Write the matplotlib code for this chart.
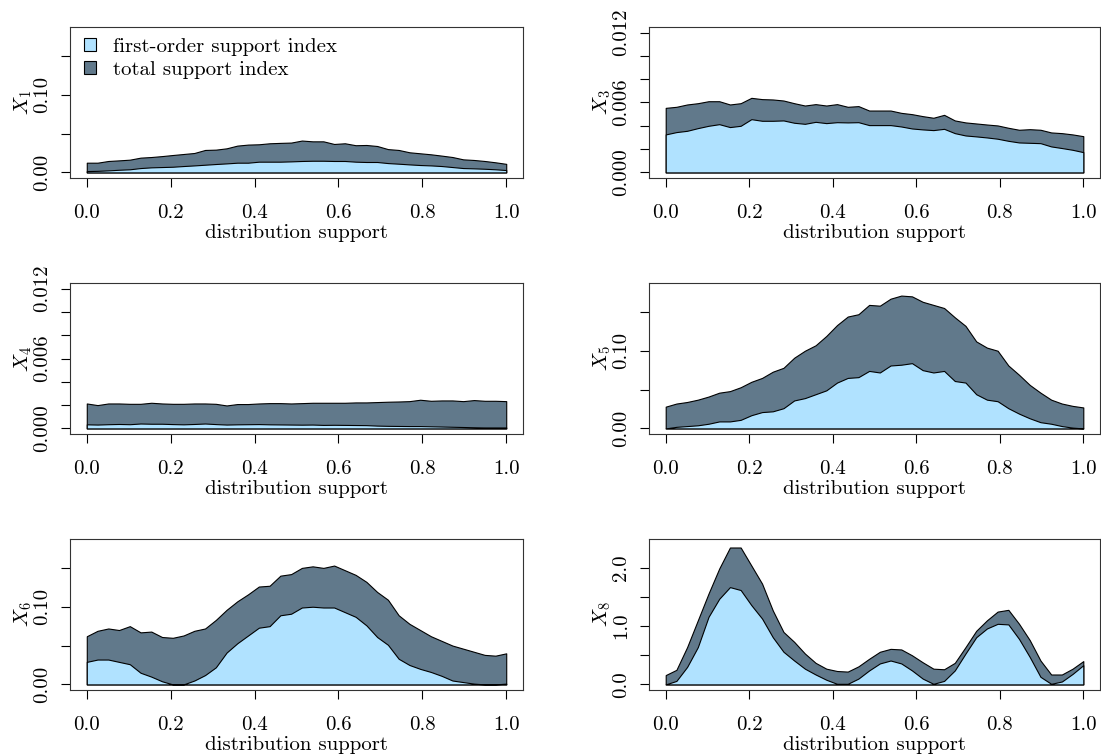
import numpy as np
import matplotlib
matplotlib.use("Agg")
import matplotlib.pyplot as plt
from matplotlib.patches import Patch

plt.rcParams['font.family'] = 'serif'
plt.rcParams['font.serif'] = ['cmr10']
plt.rcParams['mathtext.fontset'] = 'cm'
plt.rcParams['axes.unicode_minus'] = False

# 40 support points on [0, 1]
support = np.linspace(0, 1, 40)

x1_first = [0.0017, 0.0020, 0.0026, 0.0034, 0.0040, 0.0056, 0.0065, 0.0069, 0.0073, 0.0082,
            0.0090, 0.0099, 0.0108, 0.0116, 0.0125, 0.0125, 0.0138, 0.0138, 0.0138, 0.0142,
            0.0147, 0.0150, 0.0150, 0.0147, 0.0147, 0.0138, 0.0134, 0.0134, 0.0120, 0.0112,
            0.0103, 0.0095, 0.0090, 0.0082, 0.0069, 0.0056, 0.0052, 0.0047, 0.0040, 0.0030]
x1_total = [0.0125, 0.0125, 0.0147, 0.0155, 0.0164, 0.0190, 0.0198, 0.0210, 0.0224, 0.0237,
            0.0250, 0.0289, 0.0293, 0.0310, 0.0345, 0.0358, 0.0362, 0.0375, 0.0380, 0.0384,
            0.0410, 0.0400, 0.0400, 0.0366, 0.0375, 0.0350, 0.0353, 0.0340, 0.0300, 0.0289,
            0.0259, 0.0246, 0.0233, 0.0216, 0.0198, 0.0168, 0.0160, 0.0147, 0.0130, 0.0110]

x3_first = [0.00326, 0.00346, 0.00357, 0.00380, 0.00400, 0.00414, 0.00389, 0.00400, 0.00457, 0.00443,
            0.00443, 0.00446, 0.00426, 0.00417, 0.00434, 0.00423, 0.00431, 0.00429, 0.00431, 0.00406,
            0.00406, 0.00406, 0.00394, 0.00377, 0.00369, 0.00363, 0.00374, 0.00337, 0.00317, 0.00309,
            0.00300, 0.00289, 0.00271, 0.00257, 0.00254, 0.00251, 0.00223, 0.00209, 0.00194, 0.00174]
x3_total = [0.00554, 0.00563, 0.00583, 0.00594, 0.00611, 0.00611, 0.00583, 0.00594, 0.00640, 0.00629,
            0.00626, 0.00617, 0.00594, 0.00574, 0.00586, 0.00574, 0.00586, 0.00563, 0.00569, 0.00531,
            0.00531, 0.00531, 0.00511, 0.00500, 0.00483, 0.00469, 0.00494, 0.00446, 0.00429, 0.00420,
            0.00411, 0.00403, 0.00383, 0.00366, 0.00371, 0.00366, 0.00343, 0.00337, 0.00326, 0.00311]

x4_first = [0.00035, 0.00033, 0.00036, 0.00038, 0.00036, 0.00042, 0.00040, 0.00040, 0.00037, 0.00035,
            0.00038, 0.00042, 0.00037, 0.00033, 0.00035, 0.00036, 0.00037, 0.00035, 0.00034, 0.00033,
            0.00032, 0.00033, 0.00030, 0.00031, 0.00030, 0.00029, 0.00028, 0.00024, 0.00022, 0.00021,
            0.00020, 0.00020, 0.00018, 0.00016, 0.00014, 0.00012, 0.00010, 0.00008, 0.00008, 0.00008]
x4_total = [0.00214, 0.00200, 0.00214, 0.00214, 0.00211, 0.00211, 0.00220, 0.00214, 0.00211, 0.00211,
            0.00214, 0.00214, 0.00211, 0.00197, 0.00209, 0.00209, 0.00214, 0.00217, 0.00217, 0.00214,
            0.00217, 0.00220, 0.00220, 0.00220, 0.00220, 0.00223, 0.00223, 0.00226, 0.00229, 0.00231,
            0.00234, 0.00246, 0.00237, 0.00240, 0.00240, 0.00234, 0.00243, 0.00237, 0.00237, 0.00234]

x5_first = [0.000, 0.002, 0.003, 0.004, 0.006, 0.009, 0.009, 0.011, 0.017, 0.021,
            0.022, 0.026, 0.036, 0.039, 0.044, 0.049, 0.059, 0.065, 0.066, 0.074,
            0.072, 0.081, 0.082, 0.084, 0.075, 0.072, 0.074, 0.061, 0.059, 0.044,
            0.037, 0.035, 0.026, 0.019, 0.013, 0.008, 0.006, 0.003, 0.001, 0.000]
x5_total = [0.028, 0.032, 0.034, 0.037, 0.041, 0.046, 0.048, 0.053, 0.060, 0.065,
            0.073, 0.078, 0.091, 0.100, 0.107, 0.119, 0.133, 0.144, 0.147, 0.159,
            0.158, 0.167, 0.171, 0.170, 0.163, 0.159, 0.155, 0.143, 0.132, 0.112,
            0.104, 0.100, 0.081, 0.069, 0.056, 0.046, 0.037, 0.032, 0.029, 0.027]

x6_first = [0.029, 0.032, 0.032, 0.029, 0.026, 0.015, 0.010, 0.004, 0.000, 0.000,
            0.005, 0.012, 0.022, 0.041, 0.053, 0.063, 0.073, 0.075, 0.089, 0.091,
            0.099, 0.100, 0.099, 0.099, 0.093, 0.087, 0.076, 0.061, 0.051, 0.033,
            0.025, 0.020, 0.016, 0.011, 0.005, 0.003, 0.001, 0.000, 0.000, 0.001]
x6_total = [0.062, 0.069, 0.072, 0.070, 0.075, 0.067, 0.068, 0.061, 0.060, 0.063,
            0.069, 0.072, 0.083, 0.096, 0.107, 0.116, 0.126, 0.127, 0.140, 0.142,
            0.150, 0.152, 0.150, 0.153, 0.147, 0.141, 0.132, 0.119, 0.109, 0.089,
            0.078, 0.070, 0.062, 0.056, 0.050, 0.046, 0.042, 0.038, 0.037, 0.040]

x8_first = [0.00, 0.06, 0.30, 0.64, 1.16, 1.47, 1.67, 1.62, 1.36, 1.13,
            0.81, 0.56, 0.41, 0.27, 0.17, 0.08, 0.01, 0.01, 0.10, 0.24,
            0.36, 0.41, 0.36, 0.24, 0.10, 0.01, 0.06, 0.24, 0.53, 0.81,
            0.96, 1.04, 1.03, 0.78, 0.47, 0.13, 0.01, 0.05, 0.18, 0.33]
x8_total = [0.16, 0.25, 0.64, 1.10, 1.56, 1.99, 2.35, 2.35, 2.04, 1.73,
            1.27, 0.90, 0.73, 0.53, 0.37, 0.27, 0.23, 0.22, 0.31, 0.44,
            0.56, 0.61, 0.60, 0.50, 0.38, 0.27, 0.26, 0.37, 0.64, 0.92,
            1.10, 1.25, 1.28, 1.04, 0.76, 0.41, 0.17, 0.17, 0.27, 0.40]

panel_names = ['$X_1$', '$X_3$', '$X_4$', '$X_5$', '$X_6$', '$X_8$']
first_order = [x1_first, x3_first, x4_first, x5_first, x6_first, x8_first]
total_order = [x1_total, x3_total, x4_total, x5_total, x6_total, x8_total]
y_maxes = [0.18, 0.012, 0.012, 0.18, 0.18, 2.4]
y_ticks = [[0, 0.05, 0.10, 0.15],
           [0, 0.002, 0.004, 0.006, 0.008, 0.010, 0.012],
           [0, 0.002, 0.004, 0.006, 0.008, 0.010, 0.012],
           [0, 0.05, 0.10, 0.15],
           [0, 0.05, 0.10, 0.15],
           [0, 0.5, 1.0, 1.5, 2.0]]
y_ticklabels = [['0.00', '', '0.10', ''],
                ['0.000', '', '', '0.006', '', '', '0.012'],
                ['0.000', '', '', '0.006', '', '', '0.012'],
                ['0.00', '', '0.10', ''],
                ['0.00', '', '0.10', ''],
                ['0.0', '', '1.0', '', '2.0']]
x_ticks = [0.0, 0.2, 0.4, 0.6, 0.8, 1.0]
x_ticklabels = ['0.0', '0.2', '0.4', '0.6', '0.8', '1.0']

light = '#B0E2FF'
dark = '#61798B'
fs = 15

W, H = 1101, 755
fig = plt.figure(figsize=(W / 100, H / 100), dpi=100)

col_x = [(70, 523), (649, 1100)]
row_y = [(27, 178), (283, 434), (539, 690)]

for i in range(6):
    r, c = divmod(i, 2)
    (xl, xr), (yt, yb) = col_x[c], row_y[r]
    ax = fig.add_axes([xl / W, 1 - yb / H, (xr - xl) / W, (yb - yt) / H])

    ax.fill_between(support, 0, total_order[i], facecolor=dark, edgecolor='black', lw=0.8)
    ax.fill_between(support, 0, first_order[i], facecolor=light, edgecolor='black', lw=0.8)

    ax.set_xlim(-0.04, 1.04)
    ym = y_maxes[i]
    ax.set_ylim(-0.04 * ym, 1.04 * ym)

    ax.set_xticks(x_ticks)
    ax.set_xticklabels(x_ticklabels, fontsize=fs)
    ax.set_yticks(y_ticks[i])
    ax.set_yticklabels(y_ticklabels[i], fontsize=fs, rotation=90, va='center')
    ax.tick_params(direction='out', length=6.5, width=0.8, color='black')
    ax.tick_params(axis='x', pad=12)
    ax.tick_params(axis='y', pad=7)
    for s in ax.spines.values():
        s.set_linewidth(0.8)
        s.set_color('#333333')

    ax.set_xlabel('distribution support', fontsize=fs, labelpad=2)
    ax.set_ylabel(panel_names[i], fontsize=fs, labelpad=-0.5)

    if i == 0:
        handles = [Patch(facecolor=light, edgecolor='black', lw=0.8),
                   Patch(facecolor=dark, edgecolor='black', lw=0.8)]
        ax.legend(handles, ['first-order support index', 'total support index'],
                  loc='upper left', bbox_to_anchor=(0.03, 0.93), frameon=False,
                  fontsize=fs, handlelength=0.6, handleheight=0.6,
                  handletextpad=0.8, labelspacing=0.25, borderpad=0, borderaxespad=0)

fig.savefig('out.png', dpi=100)
